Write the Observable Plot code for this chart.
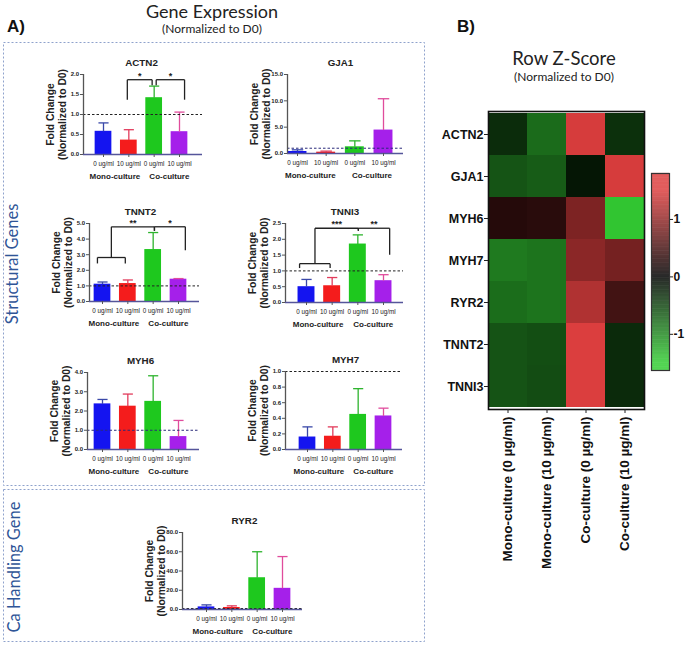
<!DOCTYPE html>
<html>
<head>
<meta charset="utf-8">
<script src="https://cdn.jsdelivr.net/npm/d3@7"></script>
<script src="https://cdn.jsdelivr.net/npm/@observablehq/plot@0.6"></script>
<style>
  html, body { margin: 0; padding: 0; background: #fff; }
  #root { position: relative; width: 685px; height: 646px; overflow: hidden; background: #fff; }
  .panel { position: absolute; }
  .panel svg { overflow: visible; }
</style>
</head>
<body>
<div id="root">
<svg id="deco" width="685" height="646" style="position:absolute;left:0;top:0;">
  <rect x="3.5" y="42.5" width="421" height="443" fill="none" stroke="#8fa2cc" stroke-width="1" stroke-dasharray="2,2"/>
  <rect x="3.5" y="489.5" width="421" height="152" fill="none" stroke="#8fa2cc" stroke-width="1" stroke-dasharray="2,2"/>
  <text x="7" y="32" font-family="Liberation Sans, Arial, sans-serif" font-weight="bold" font-size="17" fill="#111">A)</text>
  <text x="212" y="18" text-anchor="middle" font-family="Lato, sans-serif" font-size="18" fill="#222">Gene Expression</text>
  <text x="212" y="33" text-anchor="middle" font-family="Lato, sans-serif" font-size="12" fill="#222">(Normalized to D0)</text>
  <text x="457" y="32" font-family="Liberation Sans, Arial, sans-serif" font-weight="bold" font-size="17" fill="#111">B)</text>
  <text x="564" y="65" text-anchor="middle" font-family="Lato, sans-serif" font-size="18.5" fill="#222">Row Z-Score</text>
  <text x="564" y="81" text-anchor="middle" font-family="Lato, sans-serif" font-size="12" fill="#222">(Normalized to D0)</text>
  <text transform="translate(18,264) rotate(-90)" text-anchor="middle" font-family="Lato, sans-serif" font-size="16.5" fill="#2f5597">Structural Genes</text>
  <text transform="translate(20,567) rotate(-90)" text-anchor="middle" font-family="Lato, sans-serif" font-size="16.5" fill="#2f5597">Ca Handling Gene</text>
</svg>
</div>
<script>
// ---------------- data ----------------
const conditionLabels = ["0 ug/ml", "10 ug/ml", "0 ug/ml", "10 ug/ml"];
const groupLabels = ["Mono-culture", "Co-culture"];
const barColors = ["#1414f0", "#f41c1c", "#1ec81e", "#a520ea"];
const errColors = ["#3a48a8", "#e23c5c", "#2eb42e", "#e04c9c"];

const ACTN2_mean = [0.58, 0.36, 1.42, 0.57];
const ACTN2_err  = [0.21, 0.26, 0.29, 0.49];
const ACTN2_ticks = [0, 0.5, 1.0, 1.5, 2.0];
const ACTN2_brackets = [
  {x1: 0.94, x2: 1.92, y: 1.87, drop1: 1.37, drop2: 1.73, label: "*"},
  {x1: 2.08, x2: 3.2, y: 1.87, drop1: 1.73, drop2: 1.37, label: "*"}
];

const GJA1_mean = [0.38, 0.25, 1.27, 4.45];
const GJA1_err  = [0.32, 0.20, 1.13, 5.95];
const GJA1_ticks = [0, 5, 10, 15];
const GJA1_brackets = [];

const TNNT2_mean = [1.11, 1.15, 3.33, 1.43];
const TNNT2_err  = [0.14, 0.23, 1.09, 0.04];
const TNNT2_ticks = [0, 1, 2, 3, 4, 5];
const TNNT2_brackets = [
  {x1: -0.2, x2: 0.9, y: 2.82, drop1: 2.44, drop2: 2.44, label: ""},
  {x1: 0.35, x2: 2.05, y: 4.79, drop1: 2.82, drop2: 4.53, label: "**"},
  {x1: 2.05, x2: 3.27, y: 4.79, drop1: 4.53, drop2: 3.29, label: "*"}
];

const TNNI3_mean = [0.50, 0.53, 1.85, 0.69];
const TNNI3_err  = [0.23, 0.26, 0.29, 0.19];
const TNNI3_ticks = [0, 0.5, 1.0, 1.5, 2.0, 2.5];
const TNNI3_brackets = [
  {x1: -0.27, x2: 0.92, y: 1.23, drop1: 1.09, drop2: 1.09, label: ""},
  {x1: 0.33, x2: 2.02, y: 2.35, drop1: 1.23, drop2: 2.27, label: "***"},
  {x1: 2.02, x2: 3.24, y: 2.35, drop1: 2.27, drop2: 1.51, label: "**"}
];

const MYH6_mean = [2.37, 2.25, 2.50, 0.67];
const MYH6_err  = [0.23, 0.63, 1.33, 0.84];
const MYH6_ticks = [0, 1, 2, 3, 4];
const MYH6_brackets = [];

const MYH7_mean = [0.16, 0.17, 0.45, 0.43];
const MYH7_err  = [0.13, 0.12, 0.33, 0.10];
const MYH7_ticks = [0, 0.2, 0.4, 0.6, 0.8, 1.0];
const MYH7_brackets = [];

const RYR2_mean = [2.7, 2.1, 33, 22];
const RYR2_err  = [2.1, 1.7, 27, 33];
const RYR2_ticks = [0, 20, 40, 60, 80];
const RYR2_brackets = [];

// heatmap (row z-scores)
const heatmapColumns = ["Mono-culture (0 µg/ml)", "Mono-culture (10 µg/ml)", "Co-culture (0 µg/ml)", "Co-culture (10 µg/ml)"];
const heatmapRows = ["ACTN2", "GJA1", "MYH6", "MYH7", "RYR2", "TNNT2", "TNNI3"];
const z_ACTN2 = [-0.32, -0.79, 1.46, -0.35];
const z_GJA1  = [-0.62, -0.68, -0.16, 1.46];
const z_MYH6  = [0.25, 0.28, 0.85, -1.45];
const z_MYH7  = [-0.90, -0.85, 0.95, 0.80];
const z_RYR2  = [-0.80, -0.85, 1.20, 0.45];
const z_TNNT2 = [-0.61, -0.57, 1.49, -0.31];
const z_TNNI3 = [-0.61, -0.56, 1.49, -0.31];
const legendTicks = [-1, 0, 1];

// ---------------- drawing ----------------
const root = document.getElementById("root");
const FONT = "Liberation Sans, Arial, Helvetica, sans-serif";

function place(el, left, top) {
  const d = document.createElement("div");
  d.className = "panel";
  d.style.left = left + "px";
  d.style.top = top + "px";
  d.appendChild(el);
  root.appendChild(d);
}

function barPanel(gene, mean, err, ticks, brackets, L, refColor) {
  const ML = 64, MR = 6, MT = 26, MB = 34;
  const sp = (L.c3 - L.c0) / 3;
  const lo = (L.axisX - L.c0) / sp, hi = (L.xEnd - L.c0) / sp;
  const width = ML + (L.xEnd - L.axisX) + MR;
  const height = MT + (L.y0 - L.yTop) + MB;
  const top = ticks[ticks.length - 1];
  const rows = mean.map((m, i) => ({i, mean: m, err: err[i]}));
  const segs = [];
  for (const b of brackets) {
    segs.push({x1: b.x1, x2: b.x1, y1: b.drop1, y2: b.y});
    segs.push({x1: b.x1, x2: b.x2, y1: b.y, y2: b.y});
    segs.push({x1: b.x2, x2: b.x2, y1: b.y, y2: b.drop2});
  }
  const stars = brackets.filter(b => b.label).map(b => ({x: (b.x1 + b.x2) / 2, y: b.y, label: b.label}));
  const groups = [{x: 0.45, label: groupLabels[0]}, {x: 2.6, label: groupLabels[1]}];
  const ylab = [{x: lo, y: top / 2, t: "Fold Change\n(Normalized to D0)"}];
  const svg = Plot.plot({
    width, height,
    marginLeft: ML, marginRight: MR, marginTop: MT, marginBottom: MB,
    x: {domain: [lo, hi]},
    y: {domain: [0, top]},
    style: {fontFamily: FONT, color: "#222", background: "transparent", overflow: "visible"},
    marks: [
      Plot.rect(rows, {x1: d => d.i - 0.33, x2: d => d.i + 0.33, y1: d => 0, y2: "mean", fill: d => barColors[d.i]}),
      Plot.link(rows, {x1: "i", x2: "i", y1: "mean", y2: d => d.mean + d.err, stroke: d => errColors[d.i], strokeWidth: 1.3}),
      Plot.link(rows, {x1: d => d.i - 0.2, x2: d => d.i + 0.2, y1: d => d.mean + d.err, y2: d => d.mean + d.err, stroke: d => errColors[d.i], strokeWidth: 1.3}),
      Plot.ruleY([1], {stroke: refColor || "#222", strokeDasharray: "2.5,2", strokeWidth: 1}),
      Plot.ruleX([lo], {y1: d => 0, y2: d => top, stroke: "#555", strokeWidth: 1.3}),
      Plot.ruleY([0], {stroke: "#55559a", strokeWidth: 1.3}),
      Plot.axisY({ticks, tickFormat: d3.format(".1f"), tickSize: 3, tickPadding: 1.5, fontSize: 6, fontWeight: "bold", label: null, stroke: "#555"}),
      Plot.axisX({ticks: [0, 1, 2, 3], tickFormat: i => conditionLabels[i], tickSize: 3, tickPadding: 4, fontSize: 6.3, label: null, stroke: "#555"}),
      Plot.text(groups, {x: "x", text: "label", frameAnchor: "bottom", dy: 24, fontSize: 8, fontWeight: "bold"}),
      Plot.text([{x: 1.5, t: gene}], {x: "x", text: "t", frameAnchor: "top", dy: -15, fontSize: 9.8, fontWeight: "bold"}),
      Plot.text(ylab, {x: "x", y: "y", text: "t", rotate: -90, dx: -27, fontSize: 10.3, fontWeight: "bold", lineHeight: 1.17}),
      Plot.link(segs, {x1: "x1", x2: "x2", y1: "y1", y2: "y2", stroke: "#222", strokeWidth: 1.3}),
      Plot.text(stars, {x: "x", y: "y", text: "label", dy: -4, fontSize: 9, fontWeight: "bold"})
    ]
  });
  place(svg, L.axisX - ML, L.yTop - MT);
}

barPanel("ACTN2", ACTN2_mean, ACTN2_err, ACTN2_ticks, ACTN2_brackets, {axisX: 83, yTop: 74, y0: 154, xEnd: 202, c0: 103, c3: 179});
barPanel("GJA1", GJA1_mean, GJA1_err, GJA1_ticks, GJA1_brackets, {axisX: 287, yTop: 74, y0: 153, xEnd: 403, c0: 297, c3: 383}, "#2a2a7a");
barPanel("TNNT2", TNNT2_mean, TNNT2_err, TNNT2_ticks, TNNT2_brackets, {axisX: 89, yTop: 223, y0: 301, xEnd: 199, c0: 102, c3: 178});
barPanel("TNNI3", TNNI3_mean, TNNI3_err, TNNI3_ticks, TNNI3_brackets, {axisX: 285, yTop: 223, y0: 302, xEnd: 403, c0: 306, c3: 383});
barPanel("MYH6", MYH6_mean, MYH6_err, MYH6_ticks, MYH6_brackets, {axisX: 87, yTop: 372, y0: 449, xEnd: 199, c0: 102, c3: 178}, "#2a2a7a");
barPanel("MYH7", MYH7_mean, MYH7_err, MYH7_ticks, MYH7_brackets, {axisX: 285, yTop: 371, y0: 449, xEnd: 402, c0: 307, c3: 383});
barPanel("RYR2", RYR2_mean, RYR2_err, RYR2_ticks, RYR2_brackets, {axisX: 182, yTop: 532, y0: 609, xEnd: 302, c0: 206, c3: 282});

// heatmap
const zByGene = {ACTN2: z_ACTN2, GJA1: z_GJA1, MYH6: z_MYH6, MYH7: z_MYH7, RYR2: z_RYR2, TNNT2: z_TNNT2, TNNI3: z_TNNI3};
const cells = [];
heatmapRows.forEach(g => zByGene[g].forEach((z, j) => cells.push({gene: g, col: heatmapColumns[j], z})));
const colorFn = d3.scaleLinear().domain([-1.5, 0, 1.5]).range(["#33cc33", "#000000", "#dc3e3e"]).clamp(true);

const hm = Plot.plot({
  width: 206, height: 480,
  marginLeft: 48, marginRight: 2, marginTop: 2, marginBottom: 180,
  x: {domain: heatmapColumns, padding: 0},
  y: {domain: heatmapRows, padding: 0},
  style: {fontFamily: FONT, color: "#111", background: "transparent", overflow: "visible"},
  marks: [
    Plot.cell(cells, {x: "col", y: "gene", fill: d => colorFn(d.z), inset: 0}),
    Plot.frame({stroke: "#111", strokeWidth: 1.6}),
    Plot.axisY({tickSize: 4, tickPadding: 1, fontSize: 12.5, fontWeight: "bold", label: null, stroke: "#222"}),
    Plot.axisX({tickRotate: -90, tickSize: 4, tickPadding: 3, fontSize: 13.5, fontWeight: "bold", label: null, stroke: "#222"})
  ]
});
place(hm, 440, 109);

// colour legend
const steps = d3.range(-1.63, 1.8, 0.01);
const lg = Plot.plot({
  width: 40, height: 215,
  marginLeft: 6, marginRight: 16, marginTop: 8, marginBottom: 10,
  x: {domain: [0, 1], axis: null},
  y: {domain: [-1.63, 1.8]},
  style: {fontFamily: FONT, color: "#111", background: "transparent", overflow: "visible"},
  marks: [
    Plot.rect(steps, {x1: d => 0, x2: d => 1, y1: d => d, y2: d => d + 0.012, fill: d => colorFn(d)}),
    Plot.frame({stroke: "#333", strokeWidth: 1.2}),
    Plot.axisY({anchor: "right", ticks: legendTicks, tickFormat: d => String(d), tickSize: 3, tickPadding: 1, fontSize: 12, fontWeight: "bold", label: null, stroke: "#222"})
  ]
});
place(lg, 645, 165);
</script>
</body>
</html>
